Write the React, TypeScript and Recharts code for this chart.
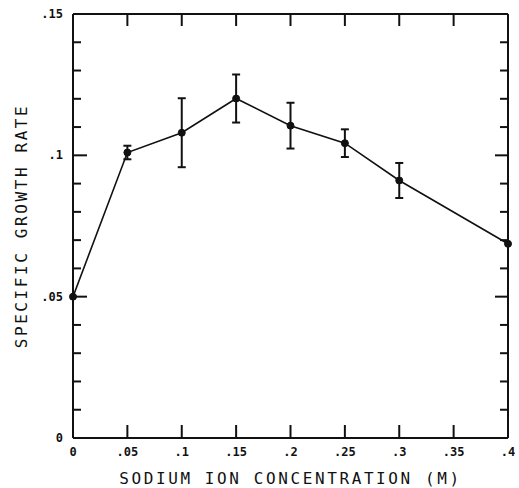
import { LineChart, Line, XAxis, YAxis, ErrorBar } from 'recharts'

const CONC = [0, 0.05, 0.1, 0.15, 0.2, 0.25, 0.3, 0.4]
const RATE = [0.05, 0.101, 0.108, 0.1201, 0.1105, 0.1043, 0.0911, 0.0687]
const ERR = [null, 0.0024, 0.0122, 0.0085, 0.0081, 0.0049, 0.0062, null]

const X_TICKS = [0, 0.05, 0.1, 0.15, 0.2, 0.25, 0.3, 0.35, 0.4]
const Y_TICKS = [0, 0.01, 0.02, 0.03, 0.04, 0.05, 0.06, 0.07, 0.08, 0.09, 0.1, 0.11, 0.12, 0.13, 0.14, 0.15]
const Y_LABELS = [0, 0.05, 0.1, 0.15]

const INK = '#111'
const TICK_FONT = { fontFamily: '"DejaVu Sans Mono", monospace', fontSize: 12, fontWeight: 700, fill: INK }
const TITLE_FONT = { fontFamily: '"DejaVu Sans Mono", monospace', fontSize: 16, letterSpacing: 2.6, fill: INK }

const fmt = (v: number) => (v === 0 ? '0' : String(v).replace(/^0/, ''))
const isMajor = (v: number) => Y_LABELS.some(m => Math.abs(m - v) < 1e-9)

const data = CONC.map((c, i) => ({ conc: c, rate: RATE[i], err: ERR[i] }))

function LeftTick({ x, y, payload }: any) {
  const major = isMajor(payload.value)
  return (
    <g>
      <line x1={x} x2={x + (major ? 14 : 8)} y1={y} y2={y} stroke={INK} strokeWidth={2} />
      {major && (
        <text x={x - 10} y={y} dy={4} textAnchor="end" {...TICK_FONT}>
          {fmt(payload.value)}
        </text>
      )}
    </g>
  )
}

function RightTick({ x, y, payload }: any) {
  const major = isMajor(payload.value)
  return <line x1={x} x2={x - (major ? 13 : 8)} y1={y} y2={y} stroke={INK} strokeWidth={2} />
}

function BottomTick({ x, y, payload }: any) {
  return (
    <g>
      <line x1={x} x2={x} y1={y} y2={y - 13} stroke={INK} strokeWidth={2} />
      <text x={x} y={y} dy={18} textAnchor="middle" {...TICK_FONT}>
        {fmt(payload.value)}
      </text>
    </g>
  )
}

function TopTick({ x, y }: any) {
  return <line x1={x} x2={x} y1={y} y2={y + 12} stroke={INK} strokeWidth={2} />
}

export default function App() {
  return (
    <div style={{ position: 'absolute', left: 0, top: 0, width: 519, height: 488, background: '#fff' }}>
      <LineChart width={519} height={488} data={data} margin={{ top: 0, right: 0, bottom: 0, left: 0 }}>
        <XAxis
          dataKey="conc"
          type="number"
          domain={[0, 0.4]}
          ticks={X_TICKS}
          interval={0}
          height={50}
          tickSize={0}
          tickMargin={0}
          tickLine={false}
          axisLine={{ stroke: INK, strokeWidth: 2 }}
          tick={<BottomTick />}
          label={{
            content: ({ viewBox }: any) => (
              <text x={viewBox.x + viewBox.width / 2} y={viewBox.y + 46} textAnchor="middle" {...TITLE_FONT}>
                SODIUM ION CONCENTRATION (M)
              </text>
            ),
          }}
        />
        <XAxis
          xAxisId="top"
          orientation="top"
          dataKey="conc"
          type="number"
          domain={[0, 0.4]}
          ticks={X_TICKS}
          interval={0}
          height={14}
          tickSize={0}
          tickMargin={0}
          tickLine={false}
          axisLine={{ stroke: INK, strokeWidth: 2 }}
          tick={<TopTick />}
        />
        <YAxis
          type="number"
          domain={[0, 0.15]}
          ticks={Y_TICKS}
          interval={0}
          width={73}
          tickSize={0}
          tickMargin={0}
          tickLine={false}
          axisLine={{ stroke: INK, strokeWidth: 2 }}
          tick={<LeftTick />}
          label={{
            content: ({ viewBox }: any) => {
              const cx = viewBox.x + 21
              const cy = viewBox.y + viewBox.height / 2
              return (
                <text x={cx} y={cy} dy={6} textAnchor="middle" transform={`rotate(-90 ${cx} ${cy})`} {...TITLE_FONT}>
                  SPECIFIC GROWTH RATE
                </text>
              )
            },
          }}
        />
        <YAxis
          yAxisId="right"
          orientation="right"
          type="number"
          domain={[0, 0.15]}
          ticks={Y_TICKS}
          interval={0}
          width={11}
          tickSize={0}
          tickMargin={0}
          tickLine={false}
          axisLine={{ stroke: INK, strokeWidth: 2 }}
          tick={<RightTick />}
        />
        {/* invisible series so the top and right frame axes get a scale */}
        <Line
          xAxisId="top"
          yAxisId="right"
          dataKey="rate"
          stroke="none"
          dot={false}
          activeDot={false}
          legendType="none"
          isAnimationActive={false}
        />
        <Line
          dataKey="rate"
          type="linear"
          stroke={INK}
          strokeWidth={1.6}
          dot={{ r: 3.5, fill: INK, stroke: INK, strokeWidth: 1 }}
          isAnimationActive={false}
        >
          <ErrorBar dataKey="err" direction="y" width={4} stroke={INK} strokeWidth={2} isAnimationActive={false} />
        </Line>
      </LineChart>
    </div>
  )
}
